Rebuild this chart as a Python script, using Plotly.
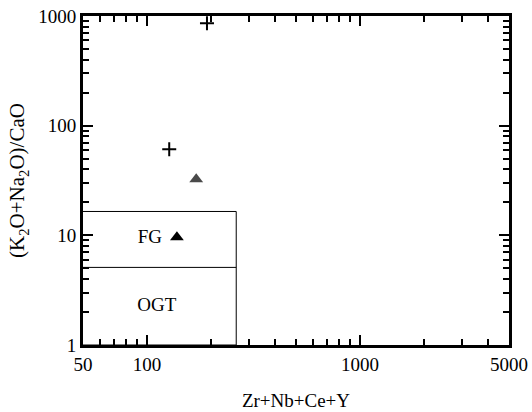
import plotly.graph_objects as go

# Data
plus_x = [191, 127]
plus_y = [860, 61]
tri_gray_x = [170]
tri_gray_y = [32.5]
tri_black_x = [138]
tri_black_y = [9.6]

# Field boundaries
fg_box_x = [50, 262, 262, 50]
fg_box_y = [16.5, 16.5, 1, 1]
ogt_div_x = [50, 262]
ogt_div_y = [5.1, 5.1]

# Field labels (value coordinates)
field_labels = ["FG", "OGT"]
field_label_x = [103, 111]
field_label_y = [9.4, 2.27]

x_ticks = [50, 100, 1000, 5000]
x_minor = [60, 70, 80, 90, 200, 300, 400, 500, 600, 700, 800, 900, 2000, 3000, 4000]
y_ticks = [1, 10, 100, 1000]
y_minor = [2, 3, 4, 5, 6, 7, 8, 9, 20, 30, 40, 50, 60, 70, 80, 90,
           200, 300, 400, 500, 600, 700, 800, 900]

FONT = "Liberation Serif, Times New Roman, serif"

fig = go.Figure()
fig.add_trace(go.Scatter(x=fg_box_x, y=fg_box_y, mode="lines",
                         line=dict(color="black", width=1), hoverinfo="skip"))
fig.add_trace(go.Scatter(x=ogt_div_x, y=ogt_div_y, mode="lines",
                         line=dict(color="black", width=1), hoverinfo="skip"))
fig.add_trace(go.Scatter(x=plus_x, y=plus_y, mode="markers",
                         marker=dict(symbol="cross-thin", size=10,
                                     line=dict(color="black", width=2))))
fig.add_trace(go.Scatter(x=tri_gray_x, y=tri_gray_y, mode="markers",
                         marker=dict(symbol="triangle-up", size=12, color="#4a4a4a")))
fig.add_trace(go.Scatter(x=tri_black_x, y=tri_black_y, mode="markers",
                         marker=dict(symbol="triangle-up", size=12, color="black")))
fig.add_trace(go.Scatter(x=field_label_x, y=field_label_y, mode="text",
                         text=field_labels, textposition="middle center",
                         textfont=dict(family=FONT, size=19, color="black"),
                         hoverinfo="skip"))

axis_common = dict(showgrid=False, zeroline=False, showline=True, linecolor="black",
                   linewidth=3, mirror="allticks", ticks="inside", ticklen=10,
                   tickwidth=2, tickcolor="black", automargin=False,
                   tickfont=dict(family=FONT, size=19, color="black"))

fig.update_xaxes(type="log", range=[1.69897, 3.69897], tickmode="array",
                 tickvals=x_ticks, ticktext=[str(v) for v in x_ticks],
                 minor=dict(tickmode="array", tickvals=x_minor, ticks="inside",
                            ticklen=6, tickwidth=2, tickcolor="black"),
                 title=dict(text="Zr+Nb+Ce+Y", font=dict(family=FONT, size=19, color="black"),
                            standoff=20),
                 **axis_common)
fig.update_yaxes(type="log", range=[0, 3], tickmode="array",
                 tickvals=y_ticks, ticktext=[str(v) for v in y_ticks],
                 minor=dict(tickmode="array", tickvals=y_minor, ticks="inside",
                            ticklen=6, tickwidth=2, tickcolor="black"),
                 title=dict(text="(K<sub>2</sub>O+Na<sub>2</sub>O)/CaO",
                            font=dict(family=FONT, size=21, color="black"), standoff=8),
                 **axis_common)

fig.update_layout(width=532, height=412, showlegend=False,
                  margin=dict(l=83, r=23, t=16, b=67),
                  paper_bgcolor="white", plot_bgcolor="white",
                  font=dict(family=FONT, size=19, color="black"))

fig.write_html("out.html", config={"displayModeBar": False},
               post_script="document.body.style.margin='0';document.body.style.overflow='hidden';")
